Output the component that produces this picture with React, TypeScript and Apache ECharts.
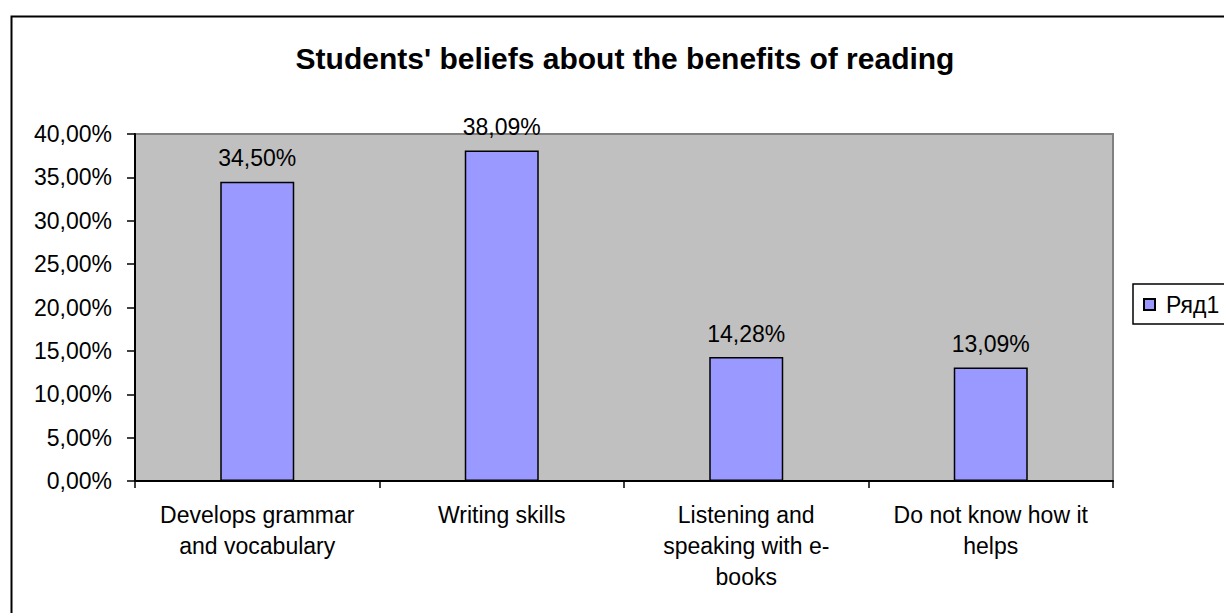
import React, { useEffect, useRef } from "react";
import * as echarts from "echarts";

const titleText = "Students' beliefs about the benefits of reading";
const categories = [
  "Develops grammar\nand vocabulary",
  "Writing skills",
  "Listening and\nspeaking with e-\nbooks",
  "Do not know how it\nhelps",
];
const values = [34.5, 38.09, 14.28, 13.09];
const seriesName = "Ряд1";
const yMin = 0;
const yMax = 40;
const yStep = 5;

const fmt = (v: number) => v.toFixed(2).replace(".", ",") + "%";

export default function App() {
  const ref = useRef<HTMLDivElement>(null);
  useEffect(() => {
    if (!ref.current) return;
    const chart = echarts.init(ref.current, undefined, { renderer: "svg" });
    const font = "'Liberation Sans', Arial, sans-serif";
    chart.setOption({
      animation: false,
      backgroundColor: "#ffffff",
      textStyle: { fontFamily: font },
      title: {
        text: titleText,
        left: 620,
        top: 38,
        textAlign: "center",
        textStyle: { fontSize: 30, fontWeight: "bold", color: "#000", fontFamily: font },
      },
      legend: {
        left: 1133,
        top: 284,
        data: [{ name: seriesName, icon: "rect" }],
        orient: "vertical",
        borderColor: "#000",
        borderWidth: 1.5,
        padding: [9, 8, 8, 10],
        itemWidth: 11,
        itemHeight: 11,
        itemGap: 0,
        textStyle: { fontSize: 23, color: "#000", fontFamily: font, padding: [0, 0, 0, 6] },
      },
      graphic: [
        {
          type: "rect",
          left: 9,
          top: 14,
          shape: { x: 0, y: 0, width: 1240, height: 640 },
          style: { fill: "none", stroke: "#000", lineWidth: 2 },
          silent: true,
          z: -1,
        },
      ],
      grid: {
        left: 135,
        top: 134,
        width: 978,
        height: 347,
        show: true,
        backgroundColor: "#c0c0c0",
        borderColor: "#808080",
        borderWidth: 2,
      },
      xAxis: {
        type: "category",
        data: categories,
        axisLine: { show: true, lineStyle: { color: "#000", width: 2 } },
        axisTick: { show: true, interval: 0, length: 7, alignWithLabel: false, lineStyle: { color: "#000", width: 1.5 } },
        axisLabel: {
          interval: 0,
          fontSize: 23,
          color: "#000",
          lineHeight: 31,
          margin: 18,
          fontFamily: font,
        },
      },
      yAxis: {
        type: "value",
        min: yMin,
        max: yMax,
        interval: yStep,
        axisLine: { show: true, lineStyle: { color: "#000", width: 2 } },
        axisTick: { show: true, length: 8, lineStyle: { color: "#000", width: 1.5 } },
        splitLine: { show: false },
        axisLabel: {
          fontSize: 23,
          color: "#000",
          margin: 23,
          fontFamily: font,
          formatter: (v: number) => fmt(v),
        },
      },
      series: [
        {
          name: seriesName,
          type: "bar",
          data: values,
          barWidth: 74,
          itemStyle: { color: "#9999ff", borderColor: "#000", borderWidth: 1.5 },
          label: {
            show: true,
            position: "top",
            distance: 12,
            fontSize: 23,
            color: "#000",
            fontFamily: font,
            formatter: (p: any) => fmt(p.value),
          },
        },
      ],
    });
    return () => chart.dispose();
  }, []);
  return (
    <div
      ref={ref}
      style={{ position: "fixed", left: 0, top: 0, width: 1224, height: 613 }}
    />
  );
}
